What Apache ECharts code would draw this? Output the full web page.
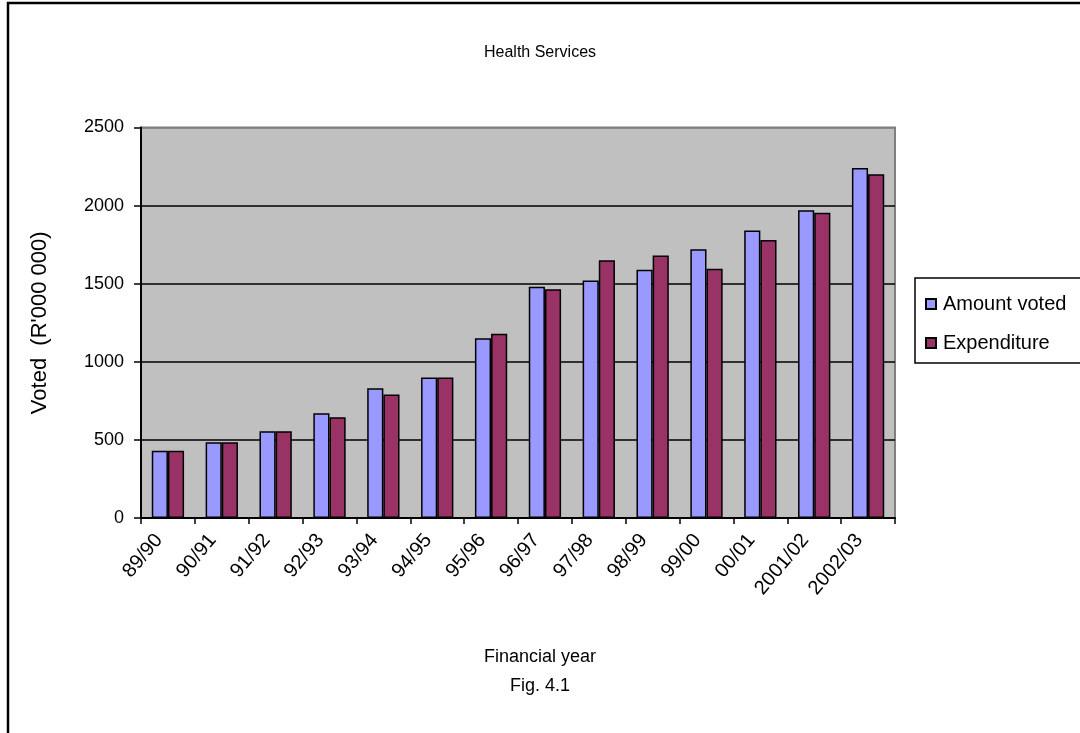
<!DOCTYPE html>
<html>
<head>
<meta charset="utf-8">
<script src="https://cdn.jsdelivr.net/npm/echarts@6/dist/echarts.min.js"></script>
<style>
  html, body { margin: 0; padding: 0; background: #ffffff; }
  #chart { width: 1080px; height: 733px; }
</style>
</head>
<body>
<div id="chart"></div>
<script>
// Financial years on the category axis
const years = ['89/90', '90/91', '91/92', '92/93', '93/94', '94/95', '95/96',
  '96/97', '97/98', '98/99', '99/00', '00/01', '2001/02', '2002/03'];
// R'000 000
const amountVoted = [430, 485, 555, 670, 830, 900, 1150, 1480, 1520, 1590, 1720, 1840, 1970, 2240];
const expenditure = [430, 485, 555, 645, 790, 900, 1180, 1465, 1650, 1680, 1595, 1780, 1955, 2200];
const yTicks = [0, 500, 1000, 1500, 2000, 2500];

const FONT = '"Liberation Sans", Arial, sans-serif';
const chart = echarts.init(document.getElementById('chart'), null, { renderer: 'canvas' });

chart.setOption({
  animation: false,
  backgroundColor: '#ffffff',
  textStyle: { fontFamily: FONT, color: '#000' },
  title: {
    text: 'Health Services',
    left: 'center',
    top: 40,
    textStyle: { fontFamily: FONT, fontSize: 16, fontWeight: 'normal', color: '#000' }
  },
  legend: {
    orient: 'vertical',
    left: 920,
    top: 289,
    itemGap: 19,
    itemWidth: 10,
    itemHeight: 10,
    icon: 'rect',
    textStyle: { fontFamily: FONT, fontSize: 20, color: '#000', padding: [0, 0, 0, 2] },
    data: ['Amount voted', 'Expenditure']
  },
  grid: {
    left: 141, right: 185, top: 127.5, bottom: 215,
    show: true,
    backgroundColor: '#C0C0C0',
    borderColor: '#808080',
    borderWidth: 2
  },
  xAxis: {
    type: 'category',
    data: years,
    boundaryGap: true,
    axisLine: { lineStyle: { color: '#000', width: 2 } },
    axisTick: { show: true, alignWithLabel: false, length: 6, inside: false, lineStyle: { color: '#000', width: 1.5 } },
    axisLabel: {
      interval: 0, rotate: 50, margin: 8,
      fontFamily: FONT, fontSize: 20, color: '#000',
      padding: [0, 14, 0, 0]
    }
  },
  yAxis: {
    type: 'value',
    min: yTicks[0],
    max: yTicks[yTicks.length - 1],
    interval: 500,
    name: "Voted  (R'000 000)",
    nameLocation: 'middle',
    nameGap: 90,
    nameTextStyle: { fontFamily: FONT, fontSize: 22, color: '#000' },
    axisLine: { show: true, lineStyle: { color: '#000', width: 2 } },
    axisTick: { show: true, length: 7, lineStyle: { color: '#000', width: 1.5 } },
    axisLabel: {
      margin: 17, fontFamily: FONT, fontSize: 18, color: '#000',
      formatter: (v) => String(v)
    },
    splitLine: {
      show: true,
      lineStyle: { color: ['#000', '#000', '#000', '#000', '#000', '#808080'], width: 1.5 }
    }
  },
  series: [
    {
      name: 'Amount voted',
      type: 'bar',
      data: amountVoted,
      barGap: '0%',
      barCategoryGap: '40%',
      itemStyle: { color: '#9999FF', borderColor: '#000', borderWidth: 1.5 }
    },
    {
      name: 'Expenditure',
      type: 'bar',
      data: expenditure,
      barGap: '0%',
      barCategoryGap: '40%',
      itemStyle: { color: '#993366', borderColor: '#000', borderWidth: 1.5 }
    }
  ],
  graphic: [
    {
      type: 'rect',
      silent: true,
      z: -10,
      shape: { x: 8, y: 3, width: 1100, height: 760 },
      style: { fill: 'none', stroke: '#000', lineWidth: 2.5 }
    },
    {
      type: 'rect',
      silent: true,
      shape: { x: 915, y: 278, width: 180, height: 85 },
      style: { fill: 'none', stroke: '#000', lineWidth: 1.5 }
    },
    {
      type: 'text',
      left: 'center',
      top: 648,
      style: { text: 'Financial year', font: '18px ' + FONT, fill: '#000' }
    },
    {
      type: 'text',
      left: 'center',
      top: 677,
      style: { text: 'Fig. 4.1', font: '18px ' + FONT, fill: '#000' }
    }
  ]
});
</script>
</body>
</html>
